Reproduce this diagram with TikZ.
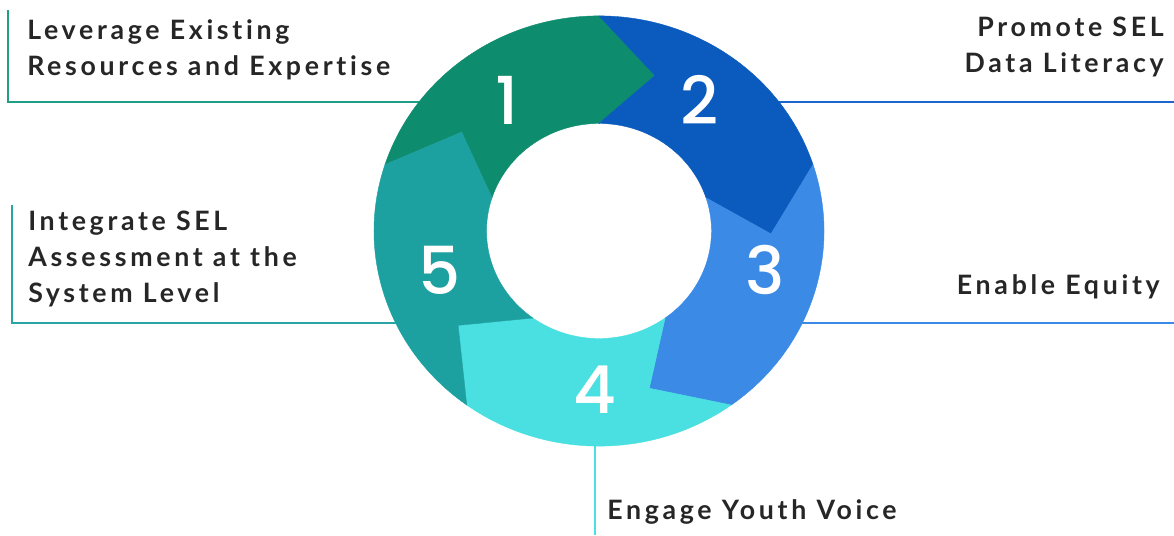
\documentclass[tikz,border=0pt]{standalone}
\usepackage{fontspec}
\newfontfamily\captionfont{Lato}[LetterSpace = 13.8, Ligatures = NoCommon]
\newfontfamily\digitfont{Poppins Medium}

\definecolor{segone}{HTML}{0E8C6E}
\definecolor{segtwo}{HTML}{0B5BBE}
\definecolor{segthree}{HTML}{3B8AE6}
\definecolor{segfour}{HTML}{4ADFE0}
\definecolor{segfive}{HTML}{1DA0A0}
\definecolor{leadone}{HTML}{1E9E84}
\definecolor{leadtwo}{HTML}{1F66CC}
\definecolor{leadfive}{HTML}{2AA5A5}

\tikzset{
	caption/.style = {inner sep = 0, text = black!85, align = left, font = \captionfont\bfseries\fontsize{19}{25.6}\selectfont},
	digit/.style = {text = white, font = \digitfont\fontsize{47}{47}\selectfont},
	leader/.style = {line width = 2pt}
}

\begin{document}
\begin{tikzpicture}[x = 0.025cm, y = 0.025cm]

	\useasboundingbox (0, 0) rectangle (1174, 535);

	% Captions

	\node [caption, anchor = north west] (cap1) at (27, 516) {Leverage Existing\\Resources and Expertise};
	\node [caption, anchor = north east, align = right] (cap2) at (1164, 518) {Promote SEL\\Data Literacy};
	\node [caption, anchor = north east] (cap3) at (1160, 261) {Enable Equity};
	\node [caption, anchor = north west] (cap4) at (607, 36) {Engage Youth Voice};
	\node [caption, anchor = north west] (cap5) at (28, 324) {Integrate SEL\\Assessment at the\\System Level};

	% Leader lines (ends hidden under the ring)

	\coordinate (top1) at (8, 525);
	\coordinate (end1) at (480, 433);
	\coordinate (beg2) at (720, 433);
	\coordinate (out2) at (1174, 433);
	\coordinate (beg3) at (720, 212);
	\coordinate (out3) at (1174, 212);
	\coordinate (beg4) at (595, 150);
	\coordinate (out4) at (595, 0);
	\coordinate (top5) at (12, 330);
	\coordinate (end5) at (480, 212);

	\draw [leader, leadone] (top1) |- (end1);
	\draw [leader, leadtwo] (beg2) -- (out2);
	\draw [leader, segthree] (beg3) -- (out3);
	\draw [leader, segfour] (beg4) -- (out4);
	\draw [leader, leadfive] (top5) |- (end5);

	% Ring of five arrows

	\begin{scope}[shift = {(599, 304)}, yscale = 0.956]
		\foreach \k/\col in {1/segone, 2/segtwo, 3/segthree, 4/segfour, 5/segfive} {
			\pgfmathsetmacro{\s}{162 - 72*(\k - 1)}
			\pgfmathsetmacro{\e}{\s - 72}
			\filldraw [fill = \col, draw = \col, line width = 0.3pt] (\s:225) arc [start angle = \s, end angle = \e, radius = 225] -- (\e - 19:172) -- (\e:112.5) arc [start angle = \e, end angle = \s, radius = 112.5] -- (\s - 19:172) -- cycle;
		}
	\end{scope}

	\node [digit] (num1) at (507, 435) {1};
	\node [digit] (num2) at (700, 435) {2};
	\node [digit] (num3) at (765, 265) {3};
	\node [digit] (num4) at (595, 145) {4};
	\node [digit] (num5) at (440, 265) {5};

\end{tikzpicture}
\end{document}
